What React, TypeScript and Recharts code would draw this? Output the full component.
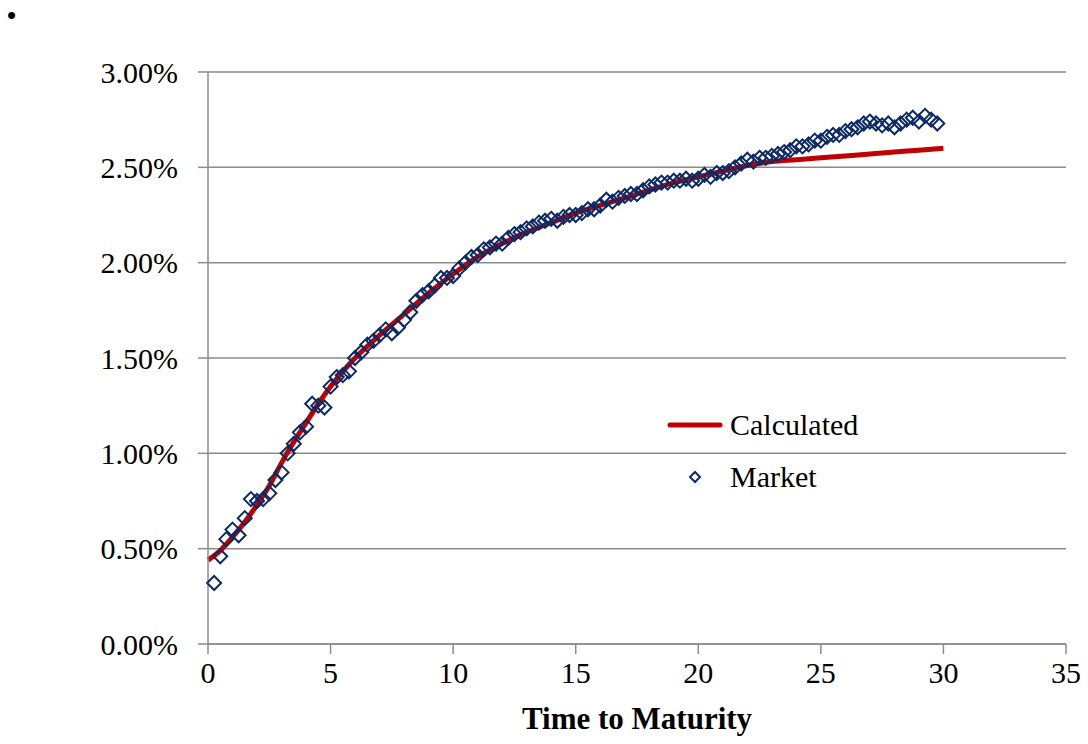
import { ComposedChart, Line, Scatter, XAxis, YAxis, CartesianGrid, Legend } from "recharts";

const FONT = "'Liberation Serif', 'Times New Roman', serif";
const RED = "#c00000";
const NAVY = "#0b2a66";
const GRID = "#8c8c8c";

// calculated curve (years, %)
const CALC_T = [0, 0.5, 1, 1.5, 2, 2.5, 3, 3.5, 4, 4.5, 5, 6, 7, 8, 9, 10, 11, 12, 13, 14, 15, 16, 17, 18, 19, 20, 21, 22, 23, 24, 25, 26, 27, 28, 29, 30];
const CALC_RATE = [0.44, 0.49, 0.56, 0.64, 0.73, 0.83, 0.95, 1.06, 1.16, 1.26, 1.35, 1.5, 1.62, 1.73, 1.84, 1.94, 2.03, 2.1, 2.16, 2.21, 2.26, 2.3, 2.34, 2.38, 2.42, 2.45, 2.48, 2.51, 2.53, 2.54, 2.55, 2.56, 2.57, 2.58, 2.59, 2.6];

// market observations (years, %)
const MARKET_T = [
  0.25, 0.5, 0.75, 1, 1.25, 1.5, 1.75, 2, 2.25, 2.5, 2.75, 3, 3.25, 3.5, 3.75, 4, 4.25, 4.5, 4.75, 5,
  5.25, 5.5, 5.75, 6, 6.25, 6.5, 6.75, 7, 7.25, 7.5, 7.75, 8, 8.25, 8.5, 8.75, 9, 9.25, 9.5, 9.75, 10,
  10.25, 10.5, 10.75, 11, 11.25, 11.5, 11.75, 12, 12.25, 12.5, 12.75, 13, 13.25, 13.5, 13.75, 14, 14.25, 14.5, 14.75, 15,
  15.25, 15.5, 15.75, 16, 16.25, 16.5, 16.75, 17, 17.25, 17.5, 17.75, 18, 18.25, 18.5, 18.75, 19, 19.25, 19.5, 19.75, 20,
  20.25, 20.5, 20.75, 21, 21.25, 21.5, 21.75, 22, 22.25, 22.5, 22.75, 23, 23.25, 23.5, 23.75, 24, 24.25, 24.5, 24.75, 25,
  25.25, 25.5, 25.75, 26, 26.25, 26.5, 26.75, 27, 27.25, 27.5, 27.75, 28, 28.25, 28.5, 28.75, 29, 29.25, 29.5, 29.75,
];
const MARKET_RATE = [
  0.32, 0.46, 0.55, 0.6, 0.57, 0.66, 0.76, 0.75, 0.76, 0.79, 0.86, 0.9, 1.0, 1.05, 1.11, 1.14, 1.26, 1.25, 1.24, 1.35,
  1.4, 1.41, 1.43, 1.5, 1.53, 1.57, 1.59, 1.62, 1.65, 1.63, 1.66, 1.7, 1.74, 1.8, 1.83, 1.85, 1.88, 1.92, 1.92, 1.93,
  1.97, 2.0, 2.03, 2.04, 2.07, 2.08, 2.1, 2.1, 2.13, 2.15, 2.16, 2.18, 2.19, 2.21, 2.22, 2.23, 2.22, 2.24, 2.25, 2.25,
  2.26, 2.28, 2.28, 2.3, 2.33, 2.32, 2.34, 2.35, 2.36, 2.36, 2.38, 2.4, 2.41, 2.42, 2.42, 2.43, 2.43, 2.44, 2.43, 2.44,
  2.46, 2.45, 2.47, 2.47, 2.48, 2.5, 2.52, 2.54, 2.53, 2.55, 2.55, 2.56, 2.57, 2.58, 2.59, 2.61, 2.61, 2.62, 2.64, 2.64,
  2.66, 2.67, 2.67, 2.69, 2.7, 2.71, 2.73, 2.74, 2.73, 2.72, 2.73, 2.71, 2.73, 2.75, 2.76, 2.74, 2.77, 2.75, 2.73,
];

const X_TICKS = [0, 5, 10, 15, 20, 25, 30, 35];
const Y_TICKS = [0, 0.5, 1, 1.5, 2, 2.5, 3];

const calcData = CALC_T.map((t, i) => ({ t, rate: CALC_RATE[i] }));
const marketData = MARKET_T.map((t, i) => ({ t, rate: MARKET_RATE[i] }));

const TICK = { fill: "#000", fontSize: 30, fontFamily: FONT };

function Diamond(props: any) {
  const { cx, cy } = props;
  if (cx == null || cy == null) return null;
  const r = 7;
  return (
    <polygon
      points={`${cx},${cy - r} ${cx + r},${cy} ${cx},${cy + r} ${cx - r},${cy}`}
      fill="none"
      stroke={NAVY}
      strokeWidth={2}
    />
  );
}

function LegendBox() {
  const row: React.CSSProperties = { display: "flex", alignItems: "center", height: 52 };
  return (
    <div style={{ fontFamily: FONT, fontSize: 30, color: "#000", lineHeight: "52px" }}>
      <div style={row}>
        <svg width={58} height={20}>
          <line x1={4} x2={54} y1={10} y2={10} stroke={RED} strokeWidth={5} strokeLinecap="round" />
        </svg>
        <span style={{ marginLeft: 6 }}>Calculated</span>
      </div>
      <div style={row}>
        <svg width={58} height={20}>
          <polygon points="29,5 34,10 29,15 24,10" fill="none" stroke={NAVY} strokeWidth={2} />
        </svg>
        <span style={{ marginLeft: 6 }}>Market</span>
      </div>
    </div>
  );
}

export default function App() {
  return (
    <div style={{ position: "relative", width: 1072, height: 728 }}>
      <span
        style={{
          position: "absolute",
          left: -1,
          top: -8,
          fontFamily: "'Liberation Sans', Arial, sans-serif",
          fontSize: 26,
          lineHeight: "normal",
        }}
      >
        •
      </span>
      <ComposedChart width={1072} height={728} margin={{ top: 64, right: 14, left: 0, bottom: 0 }}>
        <CartesianGrid horizontal vertical={false} stroke={GRID} strokeWidth={1.5} />
        <XAxis
          dataKey="t"
          type="number"
          domain={[0, 35]}
          ticks={X_TICKS}
          interval={0}
          height={92}
          tick={TICK}
          tickSize={10}
          tickMargin={8}
          stroke={GRID}
          strokeWidth={1.5}
          label={{
            value: "Time to Maturity",
            position: "insideBottom",
            offset: 7,
            style: { fontFamily: FONT, fontSize: 31, fontWeight: "bold", fill: "#000" },
          }}
        />
        <YAxis
          dataKey="rate"
          type="number"
          domain={[0, 3]}
          ticks={Y_TICKS}
          interval={0}
          width={200}
          tick={TICK}
          tickSize={10}
          tickMargin={20}
          stroke={GRID}
          strokeWidth={1.5}
          tickFormatter={(v: number) => `${v.toFixed(2)}%`}
        />
        <Line
          data={calcData}
          dataKey="rate"
          name="Calculated"
          type="monotone"
          stroke={RED}
          strokeWidth={5}
          dot={false}
          activeDot={false}
          isAnimationActive={false}
        />
        <Scatter
          data={marketData}
          dataKey="rate"
          name="Market"
          shape={Diamond}
          isAnimationActive={false}
        />
        <Legend
          verticalAlign="middle"
          align="center"
          layout="horizontal"
          width={260}
          wrapperStyle={{ left: 658, top: 391 }}
          content={() => <LegendBox />}
        />
      </ComposedChart>
    </div>
  );
}
